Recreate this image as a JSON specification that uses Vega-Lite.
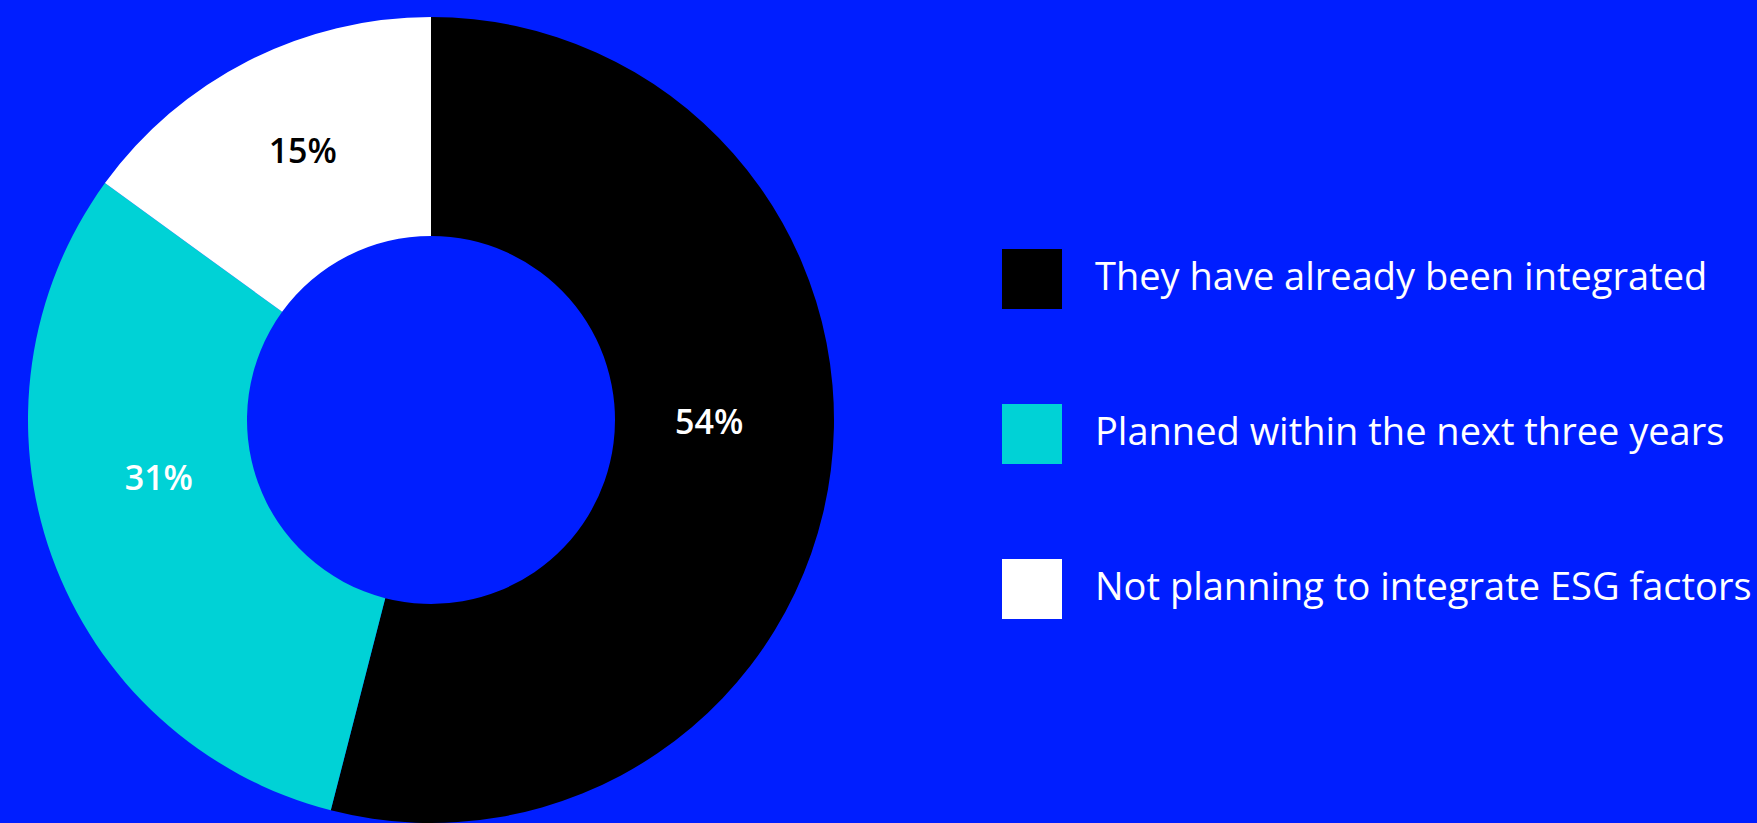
{
  "$schema": "https://vega.github.io/schema/vega-lite/v6.json",
  "autosize": {"type": "none"},
  "width": 862,
  "height": 806,
  "padding": {"top": 17, "left": 0, "right": 895, "bottom": 0},
  "background": "#001eff",
  "config": {"view": {"stroke": null}, "font": "Open Sans"},
  "data": {
    "values": [
      {"category": "They have already been integrated", "value": 54, "label": "54%", "idx": 1},
      {"category": "Planned within the next three years", "value": 31, "label": "31%", "idx": 2},
      {"category": "Not planning to integrate ESG factors", "value": 15, "label": "15%", "idx": 3}
    ]
  },
  "encoding": {
    "theta": {"field": "value", "type": "quantitative", "stack": true},
    "order": {"field": "idx", "type": "quantitative", "sort": "ascending"}
  },
  "layer": [
    {
      "mark": {"type": "arc", "outerRadius": 403, "innerRadius": 184, "stroke": null},
      "encoding": {
        "color": {
          "field": "category",
          "type": "nominal",
          "scale": {
            "domain": ["They have already been integrated", "Planned within the next three years", "Not planning to integrate ESG factors"],
            "range": ["#000000", "#00d2d6", "#ffffff"]
          },
          "legend": {
            "title": null,
            "orient": "none",
            "legendX": 1002,
            "legendY": 232,
            "padding": 0,
            "symbolType": "square",
            "symbolSize": 3600,
            "symbolStrokeWidth": 0,
            "symbolOpacity": 1,
            "rowPadding": 95,
            "labelOffset": 33,
            "labelFontSize": 38,
            "labelFont": "Open Sans",
            "labelColor": "#ffffff",
            "labelLimit": 800,
            "labelBaseline": "middle"
          }
        }
      }
    },
    {
      "mark": {"type": "text", "radius": 293.5, "dx": -13, "dy": -33, "fontSize": 34, "fontWeight": 600, "font": "Open Sans", "color": "#ffffff"},
      "encoding": {
        "text": {"condition": {"test": "datum.idx === 1", "field": "label"}, "value": ""}
      }
    },
    {
      "mark": {"type": "text", "radius": 293.5, "dx": 4, "dy": -39, "fontSize": 34, "fontWeight": 600, "font": "Open Sans", "color": "#ffffff"},
      "encoding": {
        "text": {"condition": {"test": "datum.idx === 2", "field": "label"}, "value": ""}
      }
    },
    {
      "mark": {"type": "text", "radius": 293.5, "dx": 5, "dy": -5, "fontSize": 34, "fontWeight": 600, "font": "Open Sans", "color": "#000000"},
      "encoding": {
        "text": {"condition": {"test": "datum.idx === 3", "field": "label"}, "value": ""}
      }
    }
  ]
}
